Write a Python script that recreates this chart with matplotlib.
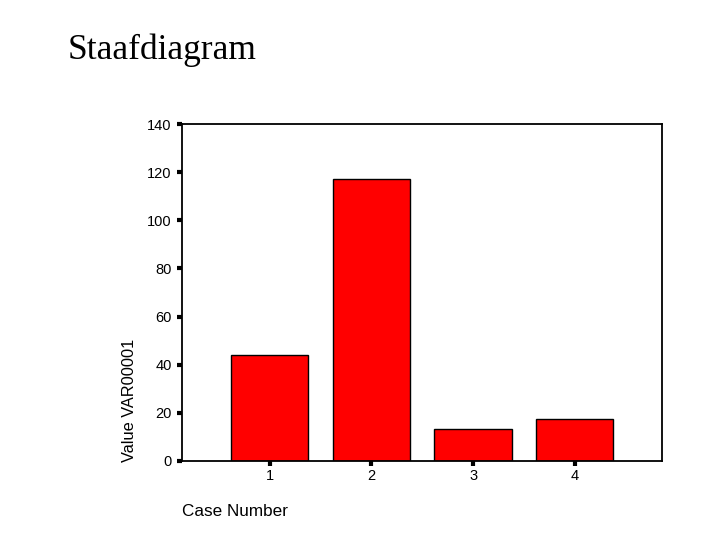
import matplotlib.pyplot as plt

cases = [1, 2, 3, 4]
values = [44, 117, 13.5, 17.5]
yticks = [0, 20, 40, 60, 80, 100, 120, 140]

plt.rcParams['font.family'] = ['Liberation Sans', 'DejaVu Sans']

fig = plt.figure(figsize=(7.2, 5.4), dpi=100)
ax = fig.add_axes([182 / 720, 1 - 461 / 540, 480 / 720, 337 / 540])

ax.bar(cases, values, width=0.76, color='#ff0000', edgecolor='black', linewidth=1)

ax.set_xlim(0.135, 4.86)
ax.set_ylim(0, 140)
ax.set_xticks(cases)
ax.set_yticks(yticks)
ax.tick_params(axis='both', length=3.5, width=3, direction='out', labelsize=10.5)
ax.tick_params(axis='y', pad=4)
ax.tick_params(axis='x', pad=2)
for s in ax.spines.values():
    s.set_linewidth(1.3)

fig.text(130 / 720, 1 - 462 / 540, 'Value VAR00001', rotation=90, ha='center', va='bottom', fontsize=11.8)
fig.text(182 / 720, 1 - 511 / 540, 'Case Number', ha='left', va='center', fontsize=12.3)
fig.text(68 / 720, 1 - 50 / 540, 'Staafdiagram', ha='left', va='center', fontsize=25.5,
         family=['Liberation Serif', 'DejaVu Serif'])

fig.savefig('out.png', dpi=100)
